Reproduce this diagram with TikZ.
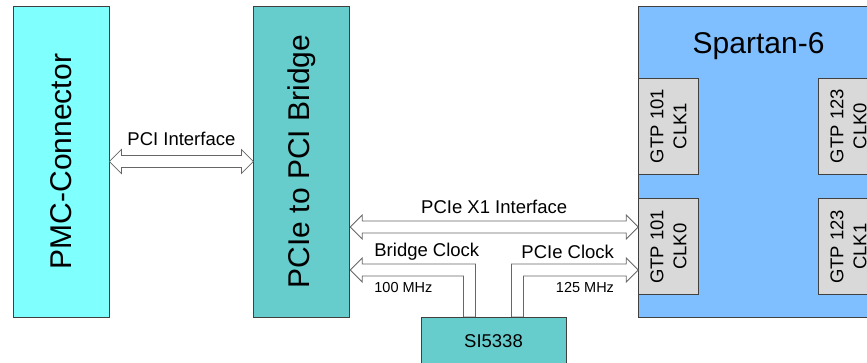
\documentclass[tikz,border=0pt]{standalone}
\usepackage{fontspec}
\setmainfont{Liberation Sans}
\usepackage[usenames,dvipsnames]{xcolor}
\usepackage{tikz}
\usetikzlibrary{calc,positioning}

\definecolor{pmcfarbe}{RGB}{128,255,255}
\definecolor{tuerkis}{RGB}{102,204,204}
\definecolor{fpgablau}{RGB}{128,191,255}
\definecolor{gtpgrau}{RGB}{217,217,217}

\tikzset{
	block/.style={draw=black!75, line width=0.8pt, inner sep=0pt},
	gtpbox/.style={block, fill=gtpgrau, minimum width=60pt, minimum height=96pt},
	flow/.style={draw=black!60, fill=white, line width=0.8pt},
	gross/.style={font=\fontsize{30}{36}\selectfont, inner sep=0pt},
	mittel/.style={font=\fontsize{18.5}{23}\selectfont, inner sep=0pt},
	klein/.style={font=\fontsize{14.5}{17}\selectfont, inner sep=0pt},
}

% hohler Doppelpfeil von #1 nach #2
\newcommand{\twoway}[2]{%
	\draw[flow] (#1) -- ++(12,-12) -- ++(0,6) -- ($(#2)+(-12,-6)$) -- ++(0,-6) -- (#2)
		-- ++(-12,12) -- ++(0,-6) -- ($(#1)+(12,6)$) -- ++(0,6) -- cycle;}

\begin{document}
\begin{tikzpicture}[x=1pt, y=-1pt]
	\clip (0,0) rectangle (867,362); % Rand wie Vorlage
	
	% Bloecke
	\node[block, fill=pmcfarbe, minimum width=96pt, minimum height=311pt] (pmc) at (61,161.5) {};
	\node[block, fill=tuerkis, minimum width=96pt, minimum height=311pt, right=144pt of pmc] (bridge) {};
	\node[block, fill=fpgablau, minimum width=240pt, minimum height=311pt, right=288pt of bridge] (spartan) {};
	
	\node[gross, rotate=90] (pmctext) at (pmc) {PMC-Connector};
	\node[gross, rotate=90] (bridgetext) at (bridge) {PCIe to PCI Bridge};
	\node[gross] (spartantext) at ($(spartan.north)+(0,41)$) {Spartan-6};
	
	% GTP Takteingaenge
	\node[gtpbox, anchor=north west] (gtpa) at ($(spartan.north west)+(0,72)$) {};
	\node[gtpbox, below=24pt of gtpa] (gtpb) {};
	\node[gtpbox, anchor=north east] (gtpc) at ($(spartan.north east)+(0,72)$) {};
	\node[gtpbox, below=24pt of gtpc] (gtpd) {};
	\node[mittel, rotate=90, align=center] (gtpatext) at (gtpa) {GTP 101\\CLK1};
	\node[mittel, rotate=90, align=center] (gtpbtext) at (gtpb) {GTP 101\\CLK0};
	\node[mittel, rotate=90, align=center] (gtpctext) at (gtpc) {GTP 123\\CLK0};
	\node[mittel, rotate=90, align=center] (gtpdtext) at (gtpd) {GTP 123\\CLK1};
	
	% Schnittstellen
	\twoway{pmc.east}{bridge.west}
	\node[mittel] (pcilbl) at ($(pmc.east)!0.5!(bridge.west)+(0,-23)$) {PCI Interface};
	
	\coordinate (x1l) at ($(bridge.east)+(0,65.5)$);
	\coordinate (x1r) at ($(spartan.west)+(0,65.5)$);
	\twoway{x1l}{x1r}
	\node[mittel] (x1lbl) at ($(x1l)!0.5!(x1r)+(0,-20.5)$) {PCIe X1 Interface};
	
	% Takte vom SI5338
	\coordinate (si) at (493.5,317);
	\coordinate (bclk) at ($(bridge.east)+(0,108.5)$);
	\coordinate (pclk) at ($(spartan.west)+(0,108.5)$);
	\draw[flow] (bclk) -- ++(12,-12) -- ++(0,6) -| ($(si)+(-18,0)$) -- ($(si)+(-30,0)$)
		|- ($(bclk)+(12,6)$) -- ++(0,6) -- cycle;
	\draw[flow] (pclk) -- ++(-12,-12) -- ++(0,6) -| ($(si)+(18,0)$) -- ($(si)+(30,0)$)
		|- ($(pclk)+(-12,6)$) -- ++(0,6) -- cycle;
	\node[mittel, anchor=west] (bclklbl) at ($(bclk)+(24,-18)$) {Bridge Clock};
	\node[klein, anchor=west] (bclkfreq) at ($(bclk)+(24,18)$) {100 MHz};
	\node[mittel, anchor=east] (pclklbl) at ($(pclk)+(-24,-18)$) {PCIe Clock};
	\node[klein, anchor=east] (pclkfreq) at ($(pclk)+(-24,18)$) {125 MHz};
	
	\node[block, fill=tuerkis, minimum width=145pt, minimum height=48pt, anchor=north, mittel] (sichip) at (si) {SI5338};
\end{tikzpicture}
\end{document}
